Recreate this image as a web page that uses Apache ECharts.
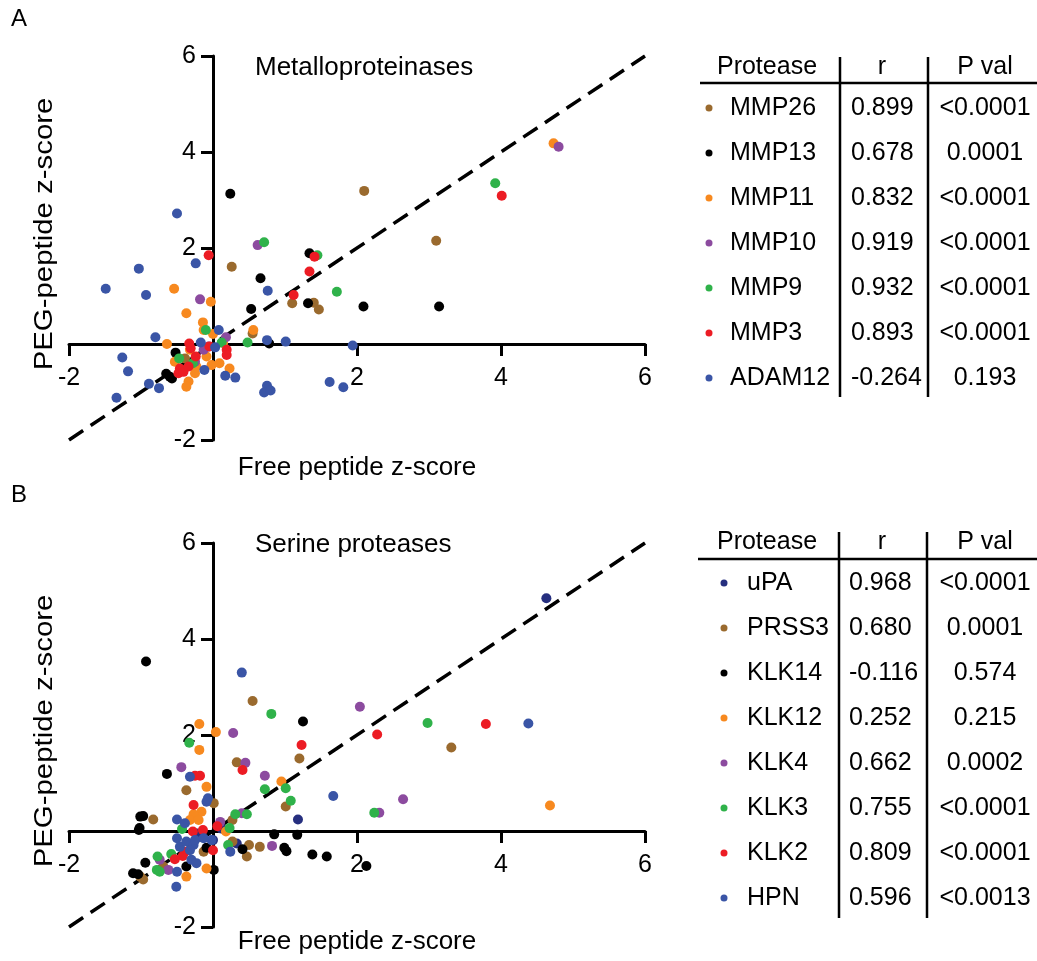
<!DOCTYPE html>
<html>
<head>
<meta charset="utf-8">
<script src="https://cdn.jsdelivr.net/npm/echarts@6/dist/echarts.min.js"></script>
<style>html,body{margin:0;padding:0;background:#fff}#c{width:1037px;height:961px}</style>
</head>
<body>
<div id="c"></div>
<script>
// ---------- data: panel A (metalloproteinases) ----------
const mmp26 = [[2.10,3.19],[3.10,2.15],[0.26,1.61],[1.10,0.85],[1.40,0.86],[1.47,0.72],[0.55,0.22],[-0.39,-0.30]];
const mmp13 = [[0.24,3.13],[1.34,1.89],[0.66,1.37],[0.53,0.73],[1.32,0.85],[0.78,0.01],[-0.52,-0.18],[-0.60,-0.68],[-0.65,-0.62],[-0.57,-0.72],[2.09,0.78],[3.14,0.78]];
const mmp11 = [[4.73,4.18],[-0.54,1.15],[-0.03,0.88],[-0.37,0.64],[-0.14,0.45],[-0.13,0.29],[0.00,0.21],[-0.64,0.00],[0.56,0.29],[-0.32,-0.12],[-0.09,-0.26],[-0.02,-0.44],[0.09,-0.40],[0.23,-0.51],[-0.25,-0.61],[-0.34,-0.78],[-0.37,-0.89],[-0.53,-0.37],[-0.23,-0.47],[0.14,0.02]];
const mmp10 = [[4.80,4.11],[0.62,2.06],[-0.18,0.93],[0.18,0.14],[-0.13,-0.12],[-0.25,-0.37],[-0.06,-0.05]];
const mmp9  = [[3.92,3.35],[0.71,2.12],[1.45,1.85],[1.72,1.09],[-0.10,0.29],[0.12,0.03],[0.48,0.03],[-0.47,-0.30],[-0.28,-0.40]];
const mmp3  = [[4.01,3.09],[-0.06,1.85],[1.41,1.82],[1.34,1.51],[1.12,1.02],[-0.33,0.01],[-0.05,-0.05],[0.19,-0.12],[0.19,-0.23],[-0.24,-0.26],[-0.46,-0.51],[-0.48,-0.61],[-0.41,-0.58],[-0.34,-0.47],[-0.31,-0.09]];
const adam12 = [[-1.49,1.15],[-1.03,1.57],[-0.93,1.02],[-0.24,1.68],[-0.50,2.72],[-0.80,0.14],[-1.26,-0.28],[-1.18,-0.57],[-0.89,-0.83],[-0.75,-0.92],[-1.34,-1.12],[0.08,0.29],[0.03,-0.07],[-0.17,0.03],[-0.12,-0.54],[0.17,-0.66],[0.31,-0.70],[0.76,1.11],[0.75,0.08],[1.01,0.05],[1.94,-0.03],[0.75,-0.87],[0.71,-1.01],[0.80,-0.97],[1.62,-0.79],[1.81,-0.90]];

// ---------- data: panel B (serine proteases) ----------
const upa   = [[4.63,4.85],[1.18,0.24],[0.33,-0.26],[0.00,-0.19],[-0.22,-0.05],[0.12,0.05]];
const prss3 = [[0.55,2.71],[3.31,1.74],[1.20,1.51],[0.33,1.43],[-0.37,0.85],[0.01,0.58],[1.01,0.51],[-0.83,0.24],[0.27,0.23],[0.27,-0.22],[0.50,-0.29],[0.65,-0.33],[0.47,-0.53],[-0.13,-0.43],[-1.01,-0.95],[-0.97,-1.01],[-0.69,-0.74]];
const klk14 = [[-0.93,3.53],[1.25,2.28],[-0.64,1.19],[-1.01,0.30],[-0.97,0.31],[-1.03,0.02],[-1.02,0.06],[-0.94,-0.66],[-1.11,-0.88],[-1.04,-0.90],[-0.09,-0.35],[0.01,-0.81],[0.41,-0.38],[0.85,-0.07],[1.17,-0.08],[0.99,-0.35],[1.02,-0.42],[1.38,-0.49],[1.58,-0.53],[2.13,-0.73],[-0.37,-0.74]];
const klk12 = [[4.68,0.53],[-0.19,2.23],[0.04,2.06],[-0.19,1.69],[-0.09,0.92],[0.95,1.03],[-0.16,0.40],[-0.27,0.35],[-0.32,0.23],[-0.20,0.23],[0.18,-0.01],[-0.09,-0.78],[-0.37,-0.95]];
const klk4  = [[2.04,2.59],[0.28,2.04],[-0.44,1.33],[0.45,1.42],[0.72,1.15],[0.10,0.19],[0.40,0.37],[0.82,-0.31],[-0.74,-0.60],[-0.62,-0.81],[2.64,0.66],[2.31,0.38]];
const klk3  = [[0.81,2.44],[2.98,2.25],[2.24,0.38],[-0.33,1.84],[0.72,0.87],[1.01,0.89],[1.08,0.63],[0.31,0.35],[0.47,0.35],[0.23,0.06],[0.21,-0.29],[-0.43,0.04],[-0.58,-0.48],[-0.77,-0.53],[-0.78,-0.81],[-0.74,-0.85]];
const klk2  = [[3.79,2.23],[2.28,2.01],[1.23,1.79],[0.41,1.27],[-0.25,1.15],[-0.18,1.15],[-0.27,0.54],[-0.28,-0.01],[-0.14,0.02],[0.06,0.10],[-0.39,-0.43],[-0.42,-0.52],[-0.53,-0.59],[0.00,-0.40]];
const hpn   = [[0.40,3.30],[4.38,2.24],[1.67,0.73],[-0.32,1.13],[-0.09,0.61],[-0.07,0.68],[-0.50,0.24],[-0.39,0.16],[-0.50,-0.15],[-0.46,-0.33],[-0.37,-0.22],[-0.27,-0.29],[-0.25,-0.19],[-0.32,-0.40],[-0.30,-0.60],[-0.23,-0.67],[-0.50,-0.85],[-0.51,-1.16],[0.24,-0.43],[-0.02,-0.19],[-0.13,-0.15]];

// identity line
const identity = [[-2,-2],[6,6]];

// ---------- tables ----------
const tableA_names = ['MMP26','MMP13','MMP11','MMP10','MMP9','MMP3','ADAM12'];
const tableA_r     = ['0.899','0.678','0.832','0.919','0.932','0.893','-0.264'];
const tableA_p     = ['<0.0001','0.0001','<0.0001','<0.0001','<0.0001','<0.0001','0.193'];
const tableB_names = ['uPA','PRSS3','KLK14','KLK12','KLK4','KLK3','KLK2','HPN'];
const tableB_r     = ['0.968','0.680','-0.116','0.252','0.662','0.755','0.809','0.596'];
const tableB_p     = ['<0.0001','0.0001','0.574','0.215','0.0002','<0.0001','<0.0001','<0.0013'];
const headers      = ['Protease','r','P val'];
const tickValues   = [-2, 2, 4, 6];

const C = {brown:'#9A6A2E', black:'#000000', orange:'#F7891F', purple:'#8C4B9F', green:'#2FB24A', red:'#EC1C24', blue:'#3A55A6', navy:'#262F7F'};
const colorsA = [C.brown, C.black, C.orange, C.purple, C.green, C.red, C.blue];
const colorsB = [C.navy, C.brown, C.black, C.orange, C.purple, C.green, C.red, C.blue];
const seriesA = [mmp26, mmp13, mmp11, mmp10, mmp9, mmp3, adam12];
const seriesB = [upa, prss3, klk14, klk12, klk4, klk3, klk2, hpn];

const FONT = 'Liberation Sans, Arial, Helvetica, sans-serif';
const chart = echarts.init(document.getElementById('c'), null, {renderer:'canvas'});

// grid geometry: x from -2..6 over 576px (72px/unit), y from -2..6 over 384px (48px/unit)
const GW = 576, GH = 384;
const XMIN = -2, XMAX = 6, YMIN = -2, YMAX = 6;

function xAx(gi){
  return {type:'value', gridIndex:gi, min:XMIN, max:XMAX, interval:2, position:'bottom',
    // shift the axis up to y = 0
    offset: -GH * (0 - YMIN) / (YMAX - YMIN),
    axisLine:{onZero:false, lineStyle:{color:'#000', width:3}},
    axisTick:{length:12, lineStyle:{color:'#000', width:3}},
    axisLabel:{color:'#000', fontSize:25, fontFamily:FONT, margin:22,
      formatter:v => tickValues.includes(v) ? String(v) : ''},
    splitLine:{show:false}};
}
function yAx(gi){
  return {type:'value', gridIndex:gi, min:YMIN, max:YMAX, interval:2, position:'left',
    // shift the axis right to x = 0
    offset: -GW * (0 - XMIN) / (XMAX - XMIN),
    axisLine:{onZero:false, lineStyle:{color:'#000', width:3}},
    axisTick:{length:12, lineStyle:{color:'#000', width:3}},
    axisLabel:{color:'#000', fontSize:25, fontFamily:FONT, margin:17,
      formatter:v => tickValues.includes(v) ? String(v) : ''},
    splitLine:{show:false}};
}

const series = [];
[0,1].forEach(gi => {
  series.push({type:'line', xAxisIndex:gi, yAxisIndex:gi, data:identity, symbol:'none', silent:true, z:1,
    lineStyle:{color:'#000', width:3.5, type:[17,9]}});
});
seriesA.forEach((d,i) => series.push({type:'scatter', name:tableA_names[i], xAxisIndex:0, yAxisIndex:0, data:d,
  symbolSize:10, itemStyle:{color:colorsA[i], opacity:1}, z:3}));
seriesB.forEach((d,i) => series.push({type:'scatter', name:tableB_names[i], xAxisIndex:1, yAxisIndex:1, data:d,
  symbolSize:10, itemStyle:{color:colorsB[i], opacity:1}, z:3}));

function txt(t, x, y, size, align, extra){
  return Object.assign({type:'text', x:x, y:y, silent:true,
    style:{text:t, fill:'#000', font:size+'px '+FONT, align:align||'center', verticalAlign:'middle',
      textAlign:align||'center', textVerticalAlign:'middle'}}, extra||{});
}
function ln(x1,y1,x2,y2){
  return {type:'line', silent:true, shape:{x1,y1,x2,y2}, style:{stroke:'#000', lineWidth:2.5}};
}

const graphics = [];
// panel letters
graphics.push(txt('A', 19, 19, 24, 'center'));
graphics.push(txt('B', 19, 495, 24, 'center'));
// panel titles
graphics.push(txt('Metalloproteinases', 255, 68, 26, 'left'));
graphics.push(txt('Serine proteases', 255, 545, 26, 'left'));
// axis titles
graphics.push(txt('Free peptide z-score', 357, 468, 26, 'center'));
graphics.push(txt('Free peptide z-score', 357, 942, 26, 'center'));
graphics.push(txt('PEG-peptide z-score', 45, 234, 26, 'center', {rotation:Math.PI/2, scaleX:1.13}));
graphics.push(txt('PEG-peptide z-score', 45, 731, 26, 'center', {rotation:Math.PI/2, scaleX:1.13}));

function buildTable(top, names, rs, ps, colors, lineY, vTop, vBottom, lineLeft, v1, v2, dotX, nameX, rX){
  const hx = [767, 882, 985];
  headers.forEach((h,i) => graphics.push(txt(h, hx[i], top, 25, 'center')));
  graphics.push(ln(lineLeft, lineY, 1037, lineY));
  graphics.push(ln(v1, vTop, v1, vBottom));
  graphics.push(ln(v2, vTop, v2, vBottom));
  names.forEach((n,i) => {
    const y = top + 41 + i*45;
    graphics.push({type:'circle', silent:true, shape:{cx:dotX, cy:y, r:3.5}, style:{fill:colors[i]}});
    graphics.push(txt(n, nameX, y, 25, 'left'));
    graphics.push(txt(rs[i], rX, y, 25, 'left'));
    graphics.push(txt(ps[i], 985, y, 25, 'center'));
  });
}
buildTable(67, tableA_names, tableA_r, tableA_p, colorsA, 83, 57, 397, 700, 840, 928, 709, 730, 851);
buildTable(542, tableB_names, tableB_r, tableB_p, colorsB, 559, 532, 918, 698, 839, 927, 724, 747, 849);

chart.setOption({
  animation:false,
  backgroundColor:'#fff',
  grid:[
    {left:69, top:56, width:GW, height:GH, containLabel:false},
    {left:69, top:543, width:GW, height:GH, containLabel:false}
  ],
  xAxis:[xAx(0), xAx(1)],
  yAxis:[yAx(0), yAx(1)],
  series:series,
  graphic:graphics
});
</script>
</body>
</html>
